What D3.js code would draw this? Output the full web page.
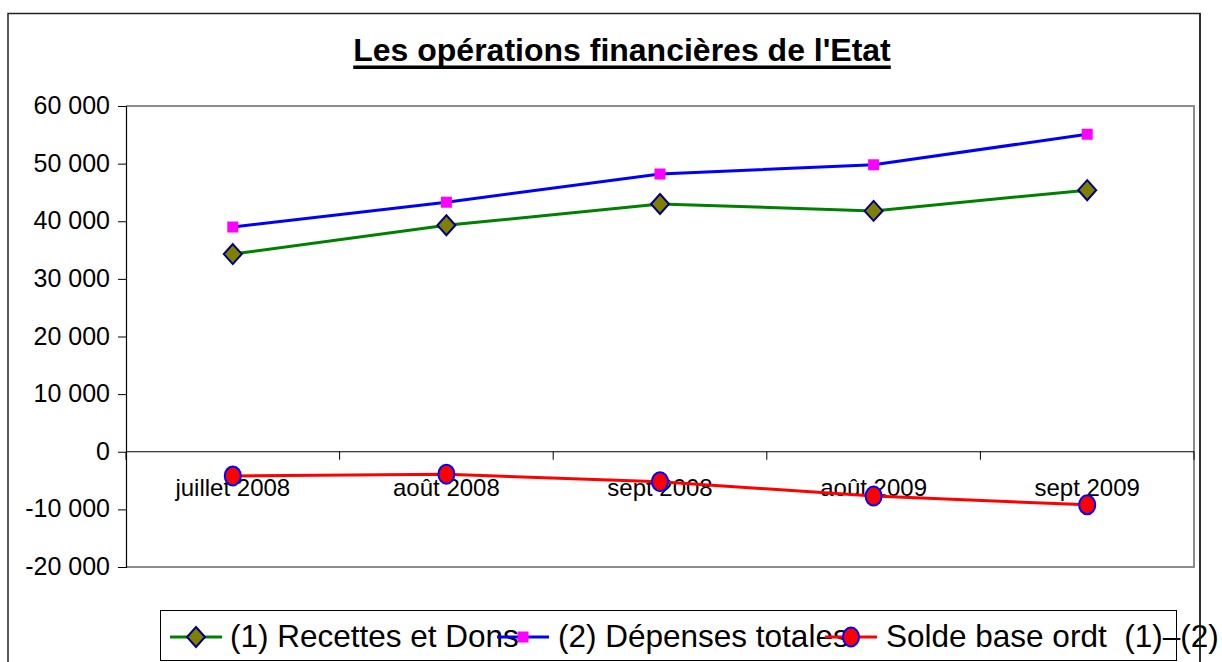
<!DOCTYPE html>
<html>
<head>
<meta charset="utf-8">
<script src="https://cdn.jsdelivr.net/npm/d3@7"></script>
<style>
  html, body { margin: 0; padding: 0; background: #fff; }
  svg { display: block; font-family: Arial, "Liberation Sans", sans-serif; }
</style>
</head>
<body>
<svg id="chart" width="1222" height="662"></svg>
<script>
const categories = ["juillet 2008", "août 2008", "sept 2008", "août 2009", "sept 2009"];
const recettes = [34300, 39300, 43000, 41800, 45400];
const depenses = [39000, 43300, 48200, 49800, 55100];
const solde = [-4200, -3900, -5200, -7700, -9200];
const yTicks = [-20000, -10000, 0, 10000, 20000, 30000, 40000, 50000, 60000];
const yTickLabels = ["-20 000", "-10 000", "0", "10 000", "20 000", "30 000", "40 000", "50 000", "60 000"];
const seriesNames = ["(1) Recettes et Dons", "(2) Dépenses totales", "Solde base ordt  (1)–(2)"];
const title = "Les opérations financières de l'Etat";

const svg = d3.select("#chart");
const plot = { left: 126, right: 1194, top: 106, bottom: 567 };

// outer frame
svg.append("rect").attr("x", 8).attr("y", 13.5).attr("width", 1192).attr("height", 700)
  .attr("fill", "none").attr("stroke", "#222").attr("stroke-width", 1.5);

// title
const t = svg.append("text").attr("x", 622).attr("y", 61).attr("text-anchor", "middle")
  .attr("font-size", 32).attr("font-weight", "bold").attr("fill", "#000").text(title);
const tw = t.node().getComputedTextLength();
svg.append("rect").attr("x", 622 - tw / 2).attr("y", 65.5).attr("width", tw).attr("height", 3.5).attr("fill", "#000");

const x = d3.scaleBand().domain(categories).range([plot.left, plot.right]).padding(0);
const y = d3.scaleLinear().domain([-20000, 60000]).range([plot.bottom, plot.top]);
const cx = d => x(d) + x.bandwidth() / 2;

// plot border (top, right, bottom gray)
svg.append("path")
  .attr("d", `M${plot.left},${y(60000)}H${plot.right}V${y(-20000)}H${plot.left}`)
  .attr("fill", "none").attr("stroke", "#8c8c8c").attr("stroke-width", 2);

// y axis
const yAxis = d3.axisLeft(y).tickValues(yTicks).tickSize(8).tickPadding(8)
  .tickFormat((d, i) => yTickLabels[i]);
const gy = svg.append("g").attr("transform", `translate(${plot.left},0)`).call(yAxis);
gy.select(".domain").attr("stroke", "#000").attr("stroke-width", 1.2);
gy.selectAll(".tick line").attr("stroke", "#000");
gy.selectAll(".tick text").attr("font-size", 25).attr("font-family", "Arial, 'Liberation Sans', sans-serif")
  .attr("fill", "#000").attr("dy", "0.3em");

// x axis at zero
const boundaries = categories.map(c => x(c)).concat([plot.right]);
const gx = svg.append("g");
gx.append("line").attr("x1", plot.left).attr("x2", plot.right).attr("y1", y(0)).attr("y2", y(0))
  .attr("stroke", "#000").attr("stroke-width", 1.2);
gx.selectAll("line.tk").data(boundaries).join("line").attr("class", "tk")
  .attr("x1", d => d).attr("x2", d => d).attr("y1", y(0)).attr("y2", y(0) + 8)
  .attr("stroke", "#000").attr("stroke-width", 1);
gx.selectAll("text").data(categories).join("text")
  .attr("x", d => cx(d)).attr("y", 496).attr("text-anchor", "middle")
  .attr("font-size", 24).attr("fill", "#000").text(d => d);

const line = d3.line().x((d, i) => cx(categories[i])).y(d => y(d));

function diamond(g, px, py) {
  g.append("path").attr("d", `M${px},${py - 10}L${px + 9},${py}L${px},${py + 10}L${px - 9},${py}Z`)
    .attr("fill", "#808000").attr("stroke", "#000080").attr("stroke-width", 2);
}
function square(g, px, py) {
  g.append("rect").attr("x", px - 5.5).attr("y", py - 5.5).attr("width", 11).attr("height", 11)
    .attr("fill", "#ff00ff");
}
function circle(g, px, py) {
  g.append("ellipse").attr("cx", px).attr("cy", py).attr("rx", 8).attr("ry", 9.5)
    .attr("fill", "#ff0000").attr("stroke", "#0000ff").attr("stroke-width", 2);
}

const series = [
  { data: recettes, color: "#008000", marker: diamond },
  { data: depenses, color: "#0000ff", marker: square },
  { data: solde, color: "#ff0000", marker: circle }
];

series.forEach(s => {
  const g = svg.append("g");
  g.append("path").datum(s.data).attr("d", line).attr("fill", "none")
    .attr("stroke", s.color).attr("stroke-width", 3);
  s.data.forEach((v, i) => s.marker(g, cx(categories[i]), y(v)));
});

// legend
svg.append("rect").attr("x", 160.5).attr("y", 610.5).attr("width", 1016).attr("height", 50)
  .attr("fill", "#fff").attr("stroke", "#000").attr("stroke-width", 1);
const legendItems = [
  { sx: 170, tx: 230 },
  { sx: 497, tx: 558 },
  { sx: 825, tx: 886 }
];
const ly = 637;
series.forEach((s, i) => {
  const it = legendItems[i];
  svg.append("text").attr("x", it.tx).attr("y", 647).attr("font-size", 31.5).attr("fill", "#000")
    .style("white-space", "pre").attr("xml:space", "preserve").text(seriesNames[i]);
});
series.forEach((s, i) => {
  const g = svg.append("g");
  const it = legendItems[i];
  g.append("line").attr("x1", it.sx).attr("x2", it.sx + 52).attr("y1", ly).attr("y2", ly)
    .attr("stroke", s.color).attr("stroke-width", 3);
  s.marker(g, it.sx + 26, ly);
});
// outer frame right edge drawn over legend text as in the reference
svg.append("line").attr("x1", 1200).attr("x2", 1200).attr("y1", 13).attr("y2", 662)
  .attr("stroke", "#222").attr("stroke-width", 1.5);
</script>
</body>
</html>
